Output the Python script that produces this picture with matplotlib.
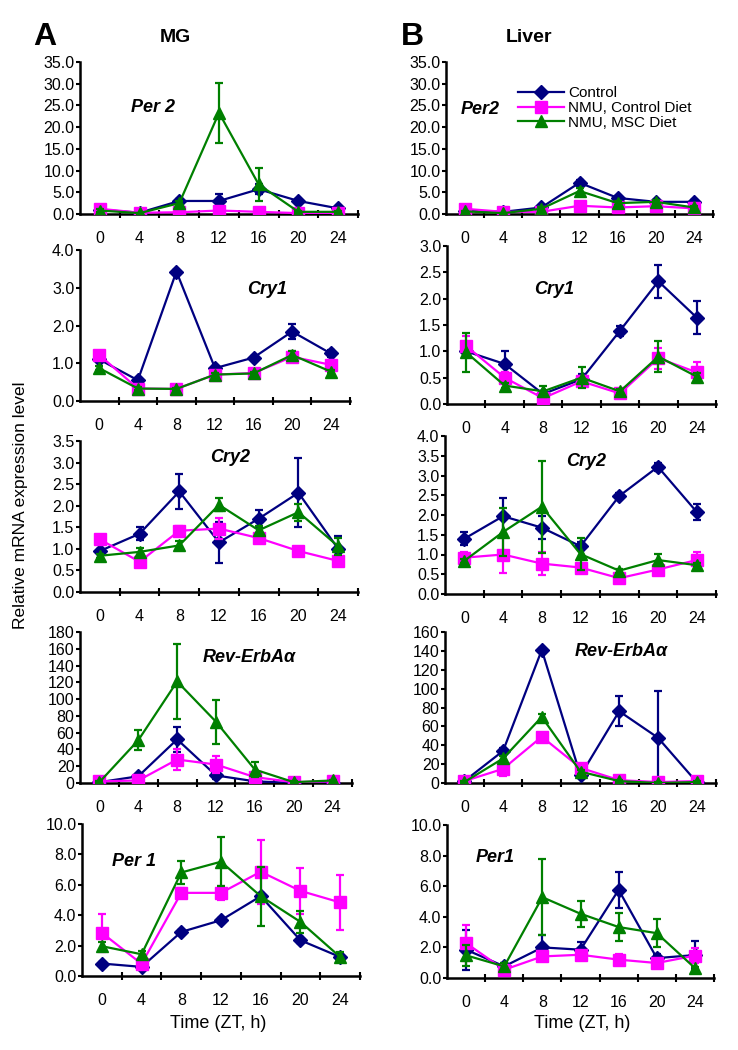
import numpy as np
import matplotlib as mpl
mpl.use('Agg')
import matplotlib.pyplot as plt
from matplotlib.lines import Line2D

plt.rcParams['font.family'] = ['Liberation Sans', 'DejaVu Sans']

# ---------------------------------------------------------
# data
zt = [0, 4, 8, 12, 16, 20, 24]
series_names = ['Control', 'NMU, Control Diet', 'NMU, MSC Diet']

# MG (mammary gland)
mg_per2_ctl = [1.0, 0.3, 3.0, 3.0, 5.7, 3.0, 1.3]
mg_per2_ctl_err = [0.3, 0.2, 0.4, 1.6, 1.2, 0.4, 0.3]
mg_per2_nmu = [1.2, 0.3, 0.4, 0.8, 0.5, 0.2, 0.2]
mg_per2_nmu_err = [0.2, 0.1, 0.1, 0.3, 0.2, 0.1, 0.1]
mg_per2_msc = [0.8, 0.2, 2.5, 23.3, 6.8, 0.5, 0.5]
mg_per2_msc_err = [0.3, 0.1, 0.5, 6.9, 3.7, 0.2, 0.2]

mg_cry1_ctl = [1.1, 0.55, 3.43, 0.87, 1.15, 1.84, 1.26]
mg_cry1_ctl_err = [0.05, 0.05, 0.05, 0.05, 0.05, 0.2, 0.1]
mg_cry1_nmu = [1.22, 0.33, 0.32, 0.7, 0.74, 1.17, 0.96]
mg_cry1_nmu_err = [0.08, 0.05, 0.03, 0.05, 0.05, 0.15, 0.08]
mg_cry1_msc = [0.87, 0.33, 0.32, 0.7, 0.73, 1.22, 0.78]
mg_cry1_msc_err = [0.05, 0.05, 0.03, 0.05, 0.05, 0.1, 0.05]

mg_cry2_ctl = [0.95, 1.35, 2.33, 1.15, 1.7, 2.3, 1.0]
mg_cry2_ctl_err = [0.05, 0.15, 0.4, 0.47, 0.2, 0.8, 0.3]
mg_cry2_nmu = [1.22, 0.7, 1.42, 1.47, 1.25, 0.95, 0.72]
mg_cry2_nmu_err = [0.1, 0.05, 0.1, 0.25, 0.08, 0.05, 0.05]
mg_cry2_msc = [0.84, 0.93, 1.08, 2.02, 1.43, 1.85, 1.06]
mg_cry2_msc_err = [0.05, 0.1, 0.1, 0.15, 0.1, 0.2, 0.2]

mg_rev_ctl = [1, 8, 52, 9, 2, 0, 0]
mg_rev_ctl_err = [1, 3, 15, 4, 2, 1, 1]
mg_rev_nmu = [2, 3, 28, 22, 7, 1, 2]
mg_rev_nmu_err = [1, 2, 13, 10, 3, 1, 1]
mg_rev_msc = [1, 51, 121, 73, 16, 1, 3]
mg_rev_msc_err = [1, 12, 45, 26, 9, 1, 1]

mg_per1_ctl = [0.82, 0.6, 2.9, 3.67, 5.25, 2.35, 1.25]
mg_per1_ctl_err = [0.1, 0.1, 0.15, 0.15, 0.2, 0.2, 0.1]
mg_per1_nmu = [2.84, 0.8, 5.47, 5.47, 6.86, 5.6, 4.84]
mg_per1_nmu_err = [1.25, 0.2, 0.3, 0.45, 2.1, 1.5, 1.8]
mg_per1_msc = [1.96, 1.43, 6.81, 7.52, 5.25, 3.56, 1.25]
mg_per1_msc_err = [0.3, 0.2, 0.75, 1.6, 1.95, 0.7, 0.3]

# Liver
lv_per2_ctl = [0.8, 0.5, 1.5, 7.2, 3.7, 2.8, 2.8]
lv_per2_ctl_err = [0.3, 0.2, 0.3, 0.6, 0.5, 0.4, 0.4]
lv_per2_nmu = [1.2, 0.5, 0.5, 1.9, 1.5, 1.8, 1.3]
lv_per2_nmu_err = [0.3, 0.1, 0.1, 0.3, 0.3, 0.3, 0.2]
lv_per2_msc = [0.6, 0.2, 1.2, 5.3, 2.5, 2.8, 1.5]
lv_per2_msc_err = [0.2, 0.1, 0.3, 0.6, 0.5, 0.5, 0.3]

lv_cry1_ctl = [1.0, 0.76, 0.19, 0.47, 1.39, 2.33, 1.64]
lv_cry1_ctl_err = [0.1, 0.25, 0.05, 0.1, 0.1, 0.31, 0.32]
lv_cry1_nmu = [1.1, 0.5, 0.11, 0.43, 0.2, 0.87, 0.6]
lv_cry1_nmu_err = [0.2, 0.1, 0.05, 0.1, 0.05, 0.2, 0.2]
lv_cry1_msc = [0.98, 0.35, 0.24, 0.5, 0.24, 0.9, 0.52]
lv_cry1_msc_err = [0.37, 0.05, 0.1, 0.2, 0.04, 0.3, 0.06]

lv_cry2_ctl = [1.4, 1.97, 1.68, 1.21, 2.48, 3.22, 2.08]
lv_cry2_ctl_err = [0.17, 0.45, 0.3, 0.1, 0.08, 0.1, 0.2]
lv_cry2_nmu = [0.92, 1.0, 0.77, 0.67, 0.4, 0.62, 0.86]
lv_cry2_nmu_err = [0.15, 0.48, 0.3, 0.1, 0.05, 0.05, 0.2]
lv_cry2_msc = [0.84, 1.57, 2.21, 1.01, 0.59, 0.86, 0.73]
lv_cry2_msc_err = [0.05, 0.6, 1.16, 0.4, 0.05, 0.15, 0.05]

lv_rev_ctl = [2, 34, 141, 8, 76, 48, 1]
lv_rev_ctl_err = [1, 3, 2, 2, 16, 49, 1]
lv_rev_nmu = [2, 15, 49, 16, 3, 1, 2]
lv_rev_nmu_err = [1, 8, 4, 2, 1, 1, 1]
lv_rev_msc = [1, 26, 70, 12, 2, 0, 1]
lv_rev_msc_err = [1, 3, 3, 2, 1, 1, 1]

lv_per1_ctl = [1.85, 0.76, 2.0, 1.85, 5.76, 1.3, 1.5]
lv_per1_ctl_err = [1.3, 0.2, 0.8, 0.5, 1.2, 0.3, 0.9]
lv_per1_nmu = [2.28, 0.54, 1.41, 1.52, 1.2, 0.98, 1.46]
lv_per1_nmu_err = [1.2, 0.1, 0.3, 0.2, 0.35, 0.2, 0.5]
lv_per1_msc = [1.48, 0.76, 5.28, 4.2, 3.33, 2.93, 0.65]
lv_per1_msc_err = [0.7, 0.2, 2.5, 0.85, 0.9, 0.9, 0.1]

# ---------------------------------------------------------
colors = ['#000080', '#ff00ff', '#008000']
markers = ['D', 's', '^']
msizes = [7, 8, 9]

W, H = 738., 1050.
fig = plt.figure(figsize=(W/100., H/100.), dpi=100)


def px_axes(x0, y0, x1, y1):
    """axes from pixel box (top-left origin)"""
    return fig.add_axes([x0/W, 1 - y1/H, (x1-x0)/W, (y1-y0)/H])


def subplot_gene(ax, data, ymax, ystep, fmt, gene, gx, gy):
    for i, (vals, errs) in enumerate(data):
        ax.errorbar(range(len(zt)), vals, yerr=errs, color=colors[i],
                    marker=markers[i], ms=msizes[i], lw=1.6, elinewidth=1.6,
                    capsize=3, capthick=1.6, label=series_names[i], zorder=3+i)
    ax.set_xlim(-0.5, 6.5)
    ax.set_ylim(0, ymax)
    ax.set_yticks(np.arange(0, ymax + ystep/2., ystep))
    ax.set_yticklabels([fmt % v for v in np.arange(0, ymax + ystep/2., ystep)])
    ax.set_xticks(range(len(zt)))
    ax.set_xticklabels([str(z) for z in zt])
    ax.set_xticks(np.arange(0.5, 6.6, 1.0), minor=True)
    ax.tick_params(axis='x', which='major', length=0, pad=12, labelsize=11.5)
    ax.tick_params(axis='x', which='minor', direction='inout', length=6, width=1.5)
    ax.tick_params(axis='y', direction='out', length=3, width=1.5, pad=1, labelsize=11.5)
    ax.spines['top'].set_visible(False)
    ax.spines['right'].set_visible(False)
    for s in ['left', 'bottom']:
        ax.spines[s].set_linewidth(1.8)
    ax.patch.set_alpha(0)
    fig.text(gx/W, 1 - gy/H, gene, fontsize=13, fontweight='bold',
             fontstyle='italic', ha='center', va='center')


# left column (MG)
ax = px_axes(80, 62, 358, 214)
subplot_gene(ax, [(mg_per2_ctl, mg_per2_ctl_err), (mg_per2_nmu, mg_per2_nmu_err),
                  (mg_per2_msc, mg_per2_msc_err)], 35, 5, '%.1f', 'Per 2', 153, 108)
ax = px_axes(80, 250, 350, 401)
subplot_gene(ax, [(mg_cry1_ctl, mg_cry1_ctl_err), (mg_cry1_nmu, mg_cry1_nmu_err),
                  (mg_cry1_msc, mg_cry1_msc_err)], 4, 1, '%.1f', 'Cry1', 267, 290)
ax = px_axes(80, 441, 358, 592)
subplot_gene(ax, [(mg_cry2_ctl, mg_cry2_ctl_err), (mg_cry2_nmu, mg_cry2_nmu_err),
                  (mg_cry2_msc, mg_cry2_msc_err)], 3.5, 0.5, '%.1f', 'Cry2', 230, 458)
ax = px_axes(80, 632, 352, 783)
subplot_gene(ax, [(mg_rev_ctl, mg_rev_ctl_err), (mg_rev_nmu, mg_rev_nmu_err),
                  (mg_rev_msc, mg_rev_msc_err)], 180, 20, '%d', 'Rev-ErbA\u03b1', 249, 657)
ax = px_axes(82, 824, 360, 976)
subplot_gene(ax, [(mg_per1_ctl, mg_per1_ctl_err), (mg_per1_nmu, mg_per1_nmu_err),
                  (mg_per1_msc, mg_per1_msc_err)], 10, 2, '%.1f', 'Per 1', 134, 862)

# right column (Liver)
ax = px_axes(446, 62, 713, 214)
subplot_gene(ax, [(lv_per2_ctl, lv_per2_ctl_err), (lv_per2_nmu, lv_per2_nmu_err),
                  (lv_per2_msc, lv_per2_msc_err)], 35, 5, '%.1f', 'Per2', 480, 110)
handles = [Line2D([], [], color=colors[i], marker=markers[i], ms=msizes[i], lw=1.6)
           for i in range(3)]
fig.legend(handles, series_names, loc='center left',
           bbox_to_anchor=(518/W, 1 - 108/H), frameon=False, fontsize=11,
           handlelength=3.0, handletextpad=0.3, labelspacing=0.05,
           borderpad=0, borderaxespad=0)
ax = px_axes(447, 246, 716, 404)
subplot_gene(ax, [(lv_cry1_ctl, lv_cry1_ctl_err), (lv_cry1_nmu, lv_cry1_nmu_err),
                  (lv_cry1_msc, lv_cry1_msc_err)], 3, 0.5, '%.1f', 'Cry1', 554, 290)
ax = px_axes(445, 436, 716, 594)
subplot_gene(ax, [(lv_cry2_ctl, lv_cry2_ctl_err), (lv_cry2_nmu, lv_cry2_nmu_err),
                  (lv_cry2_msc, lv_cry2_msc_err)], 4, 0.5, '%.1f', 'Cry2', 586, 462)
ax = px_axes(445, 632, 716, 783)
subplot_gene(ax, [(lv_rev_ctl, lv_rev_ctl_err), (lv_rev_nmu, lv_rev_nmu_err),
                  (lv_rev_msc, lv_rev_msc_err)], 160, 20, '%d', 'Rev-ErbA\u03b1', 621, 652)
ax = px_axes(447, 825, 714, 978)
subplot_gene(ax, [(lv_per1_ctl, lv_per1_ctl_err), (lv_per1_nmu, lv_per1_nmu_err),
                  (lv_per1_msc, lv_per1_msc_err)], 10, 2, '%.1f', 'Per1', 495, 857)

# panel letters, titles, shared labels
fig.text(45/W, 1 - 37/H, 'A', fontsize=23, fontweight='bold', ha='center', va='center')
fig.text(175/W, 1 - 38/H, 'MG', fontsize=14, fontweight='bold', ha='center', va='center')
fig.text(412/W, 1 - 37/H, 'B', fontsize=23, fontweight='bold', ha='center', va='center')
fig.text(529/W, 1 - 38/H, 'Liver', fontsize=14, fontweight='bold', ha='center', va='center')
fig.text(21/W, 1 - 505/H, 'Relative mRNA expression level', fontsize=12.5,
         rotation=90, ha='center', va='center')
fig.text(218/W, 1 - 1023/H, 'Time (ZT, h)', fontsize=13, ha='center', va='center')
fig.text(582/W, 1 - 1023/H, 'Time (ZT, h)', fontsize=13, ha='center', va='center')

plt.savefig('out.png', dpi=100)
